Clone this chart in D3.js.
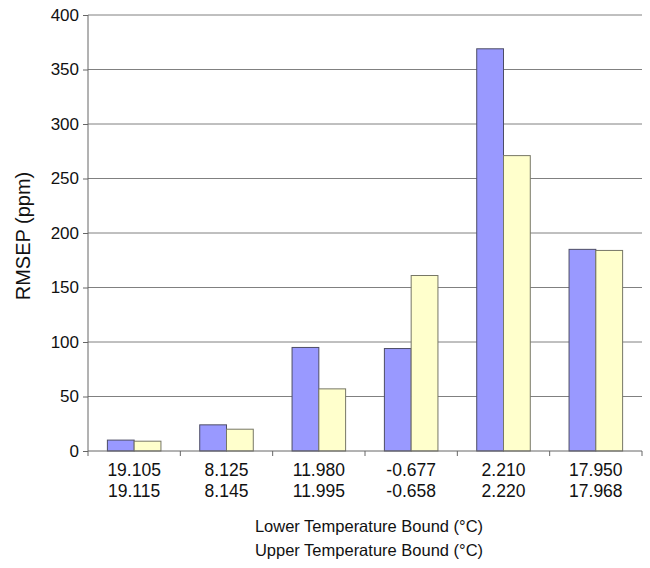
<!DOCTYPE html>
<html><head><meta charset="utf-8">
<script src="https://cdn.jsdelivr.net/npm/d3@7"></script>
<style>body{margin:0;background:#fff}svg{display:block}</style>
</head><body>
<script>
const lowerBounds = ["19.105","8.125","11.980","-0.677","2.210","17.950"];
const upperBounds = ["19.115","8.145","11.995","-0.658","2.220","17.968"];
const seriesA = [10, 24, 95, 94, 369, 185];
const seriesB = [9, 20, 57, 161, 271, 184];
const yTicks = [0,50,100,150,200,250,300,350,400];

const W=650,H=568;
const m={l:88,r:8,t:15,b:117};
const FF="'Liberation Sans',Arial,Helvetica,sans-serif";
const svg=d3.select("body").append("svg").attr("width",W).attr("height",H)
  .style("font-family",FF);
const iw=W-m.l-m.r, ih=H-m.t-m.b;
const g=svg.append("g").attr("transform",`translate(${m.l},${m.t})`);
const x=d3.scaleBand().domain(d3.range(6)).range([0,iw]).paddingInner(0).paddingOuter(0);
const y=d3.scaleLinear().domain([0,400]).range([ih,0]);

// gridlines
g.selectAll(".grid").data(yTicks.slice(1)).join("line")
  .attr("x1",0).attr("x2",iw).attr("y1",d=>y(d)).attr("y2",d=>y(d))
  .attr("stroke","#808080").attr("stroke-width",1);

const inner=0.21;
const bw=x.bandwidth()*(1-2*inner)/2;
const data=d3.range(6).map(i=>({i,a:seriesA[i],b:seriesB[i]}));
const gb=g.selectAll(".grp").data(data).join("g").attr("transform",d=>`translate(${x(d.i)+x.bandwidth()*inner},0)`);
gb.append("rect").attr("x",0).attr("width",bw).attr("y",d=>y(d.a)).attr("height",d=>ih-y(d.a))
  .attr("fill","#9999ff").attr("stroke","#4d4d66").attr("stroke-width",1);
gb.append("rect").attr("x",bw).attr("width",bw).attr("y",d=>y(d.b)).attr("height",d=>ih-y(d.b))
  .attr("fill","#ffffcc").attr("stroke","#777766").attr("stroke-width",1);

// y axis
const ya=g.append("g").call(d3.axisLeft(y).tickValues(yTicks).tickSize(5).tickPadding(4));
ya.select(".domain").attr("stroke","#666").attr("d",`M0,${ih}V0`);
ya.selectAll(".tick line").attr("stroke","#666");
ya.selectAll("text").attr("font-size",17).attr("fill","#111").style("font-family",FF);

// x axis
const xa=g.append("g").attr("transform",`translate(0,${ih})`);
xa.append("line").attr("x1",0).attr("x2",iw).attr("stroke","#666");
xa.selectAll(".xt").data(d3.range(7)).join("line")
  .attr("x1",d=>d*x.step()).attr("x2",d=>d*x.step()).attr("y1",0).attr("y2",5).attr("stroke","#666");
xa.selectAll(".l1").data(lowerBounds).join("text")
  .attr("x",(d,i)=>x(i)+x.bandwidth()/2).attr("y",25).attr("text-anchor","middle")
  .attr("font-size",17.5).attr("fill","#111").text(d=>d);
xa.selectAll(".l2").data(upperBounds).join("text")
  .attr("x",(d,i)=>x(i)+x.bandwidth()/2).attr("y",46).attr("text-anchor","middle")
  .attr("font-size",17.5).attr("fill","#111").text(d=>d);

svg.append("text").attr("x",m.l+iw/2+4).attr("y",532).attr("text-anchor","middle")
  .attr("font-size",16.5).attr("fill","#111").text("Lower Temperature Bound (°C)");
svg.append("text").attr("x",m.l+iw/2+4).attr("y",556).attr("text-anchor","middle")
  .attr("font-size",16.5).attr("fill","#111").text("Upper Temperature Bound (°C)");
svg.append("text").attr("transform",`translate(30,236) rotate(-90)`).attr("text-anchor","middle")
  .attr("font-size",20).attr("fill","#111").text("RMSEP (ppm)");
</script>
</body></html>
